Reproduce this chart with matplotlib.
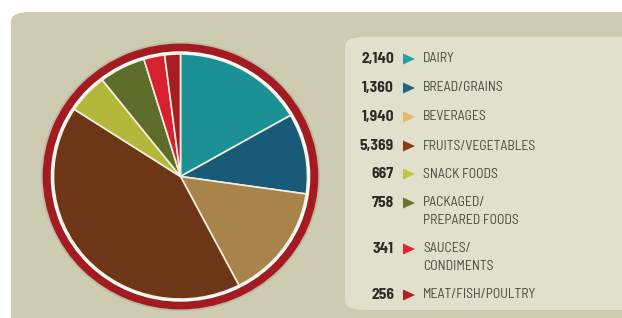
import matplotlib.pyplot as plt
from matplotlib.patches import FancyBboxPatch, Wedge, Circle, Polygon

# Data
categories = ['DAIRY', 'BREAD/GRAINS', 'BEVERAGES', 'FRUITS/VEGETABLES', 'SNACK FOODS',
              'PACKAGED/\nPREPARED FOODS', 'SAUCES/\nCONDIMENTS', 'MEAT/FISH/POULTRY']
values = [2140, 1360, 1940, 5369, 667, 758, 341, 256]
colors = ['#1b9196', '#1a5a79', '#a8844a', '#6d3616', '#b3b83b', '#5f6d2b', '#d8212f', '#a71d24']
marker_colors = ['#1fa2a6', '#1d6689', '#e0b86e', '#873c1c', '#c1c63f', '#64772c', '#e22432', '#b31e24']

W, H = 622, 318
FONT = ['Barlow Semi Condensed', 'DejaVu Sans']
fig = plt.figure(figsize=(W / 100, H / 100), dpi=100)
fig.patch.set_facecolor('white')


def px(x, y):
    return x / W, 1 - y / H


# Background panels
outer = FancyBboxPatch((11 / W, -0.05), (W + 20) / W, (318 - 12) / H + 0.05,
                       boxstyle='round,pad=0,rounding_size=0.03', transform=fig.transFigure,
                       facecolor='#cdcbb1', edgecolor='none', zorder=-2)
fig.patches.append(outer)
inner = FancyBboxPatch((345 / W, 1 - 310 / H), (W + 20 - 345) / W, (310 - 37) / H,
                       boxstyle='round,pad=0,rounding_size=0.03', transform=fig.transFigure,
                       facecolor='#e1e0cd', edgecolor='none', zorder=-1)
fig.patches.append(inner)

# Pie (slightly squashed vertically, as in the reference)
cx, cy = 180.5, 176.5
hx, hy = 1.1 * 127, 1.1 * 122.5
ax = fig.add_axes([(cx - hx) / W, 1 - (cy + hy) / H, 2 * hx / W, 2 * hy / H])
ax.set_zorder(1)
ax.patch.set_visible(False)
ax.add_patch(Circle((0, 0), 1.1, facecolor='#8f8a70', alpha=0.25, edgecolor='none', zorder=0))
ax.add_patch(Circle((0, 0), 1.03, facecolor='white', edgecolor='none', zorder=1))
ax.pie(values, colors=colors, startangle=90, counterclock=False, radius=1.0,
       wedgeprops=dict(edgecolor='#f4f0e0', linewidth=1.2, zorder=2))
ax.add_patch(Wedge((0, 0), 1.085, 0, 360, width=0.063, facecolor='#a41a21',
                   edgecolor='none', zorder=3))
ax.set_xlim(-1.1, 1.1)
ax.set_ylim(-1.1, 1.1)
ax.set_aspect('auto')
ax.axis('off')

# Legend
rows_y = [59, 88, 117, 146, 174, 203, 249, 295]
for val, cat, mc, ry in zip(values, categories, marker_colors, rows_y):
    fx, fy = px(394, ry)
    fig.text(fx, fy, f'{val:,}', ha='right', va='center', fontsize=11.2,
             fontweight='bold', family=FONT, color='#2c2b25')
    tri = Polygon([px(403, ry - 5.5), px(403, ry + 5.5), px(415, ry)], closed=True,
                  transform=fig.transFigure, facecolor=mc, edgecolor='none', zorder=2)
    fig.patches.append(tri)
    for i, line in enumerate(cat.split('\n')):
        lx, ly = px(423, ry + 17 * i)
        fig.text(lx, ly, line, ha='left', va='center', fontsize=9.9,
                 family=FONT, color='#4a4940')

plt.savefig('out.png', dpi=100)
plt.close()
